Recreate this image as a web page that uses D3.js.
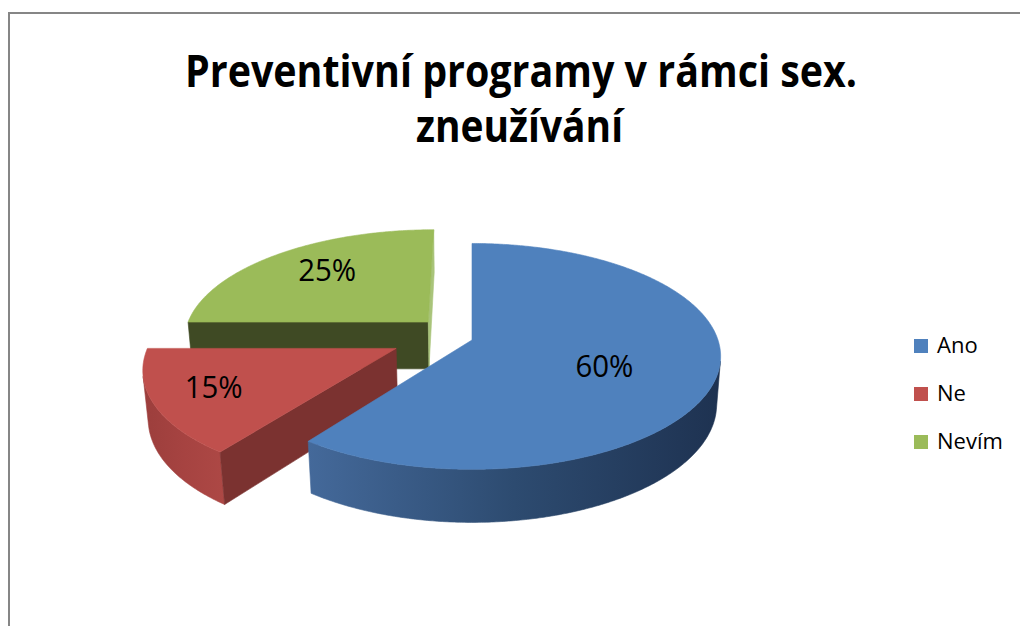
<!DOCTYPE html>
<html><head><meta charset="utf-8">
<script src="https://cdn.jsdelivr.net/npm/d3@7"></script>
<style>html,body{margin:0;padding:0;background:#fff;} svg{display:block;}</style>
</head><body>
<svg id="chart" width="1020" height="626"></svg>
<script>
// ---- data ----
const titleLines = ["Preventivní programy v rámci sex.", "zneužívání"];
const categories = ["Ano", "Ne", "Nevím"];
const values = [60, 15, 25];
const valueLabels = ["60%", "15%", "25%"];

// ---- style ----
const topColors = ["#4F81BD", "#C0504D", "#9BBB59"];
const startFaceColors = ["#2C4A6E", "#7B3230", "#3F4A24"];
const endFaceColors = ["#2C4A6E", "#8A3A38", "#A9C47A"];
const sideStops = [["#44699A", "#2D4B70", "#1E3251"], ["#9C3E3C", "#A64341", "#AD4845"], ["#5B6E33", "#5B6E33", "#5B6E33"]];
const explodeX = [0, -0.305, -0.182];
const explodeZ = [0, 0.075, -0.166];
const labelRadius = [0.56, 0.78, 0.63];
const labelDx = [-2, 4, -3];
const labelDy = [6, -4, -8];

const W = 1020, H = 626;
const CX = 472, CY = 340, S = 246, PHI = 26.7 * Math.PI / 180, DIST = 6.16, DEPTH = 0.22;
const sinP = Math.sin(PHI), cosP = Math.cos(PHI);
const cam = [0, DIST * sinP, DIST * cosP];

function project(x, y, z) {
  const w = z * cosP + y * sinP;
  const yUp = y * cosP - z * sinP;
  const k = DIST / (DIST - w);
  return [CX + S * x * k, CY - S * yUp * k];
}

const svg = d3.select("#chart");
const defs = svg.append("defs");
const color = d3.scaleOrdinal().domain(categories).range(topColors);
const line = d3.line().curve(d3.curveLinearClosed);

// border
svg.append("path").attr("d", "M9,626V13H1020").attr("fill", "none")
  .attr("stroke", "#868686").attr("stroke-width", 2);

// title
const tLens = [672, 207];
const tY = [87, 142];
const tX = [521, 519.5];
titleLines.forEach((t, i) => {
  svg.append("text").attr("x", tX[i]).attr("y", tY[i])
    .attr("text-anchor", "middle")
    .attr("font-family", "Open Sans, sans-serif").attr("font-weight", 700)
    .attr("font-size", 44).attr("fill", "#000")
    .attr("textLength", tLens[i]).attr("lengthAdjust", "spacingAndGlyphs")
    .text(t);
});

const pie = d3.pie().sort(null).value(d => d.value);
const arcs = pie(categories.map((c, i) => ({ cat: c, value: values[i], i })));

function angDistFront(a) {
  if (a.startAngle <= Math.PI && a.endAngle >= Math.PI) return 0;
  return Math.min(Math.abs(a.startAngle - Math.PI), Math.abs(a.endAngle - Math.PI));
}
const order = arcs.slice().sort((a, b) => angDistFront(b) - angDistFront(a));

const step = Math.PI / 360;
function rim(i, th, y) {
  return [explodeX[i] + Math.sin(th), y, explodeZ[i] - Math.cos(th)];
}
function dot(a, b) { return a[0] * b[0] + a[1] * b[1] + a[2] * b[2]; }
function facing(p, n) { return dot([cam[0] - p[0], cam[1] - p[1], cam[2] - p[2]], n) > 0; }

const g = svg.append("g");
order.forEach(a => {
  const i = a.data.i;
  const sg = g.append("g").attr("class", "slice");
  const s0 = a.startAngle, s1 = a.endAngle;
  const n = Math.max(2, Math.ceil((s1 - s0) / step));
  const ths = d3.range(n + 1).map(k => s0 + (s1 - s0) * k / n);

  // outer side, visible runs
  const gid = "side" + i;
  const gr = defs.append("linearGradient").attr("id", gid).attr("x1", 0).attr("x2", 1).attr("y1", 0).attr("y2", 0);
  sideStops[i].forEach((c, k) => gr.append("stop").attr("offset", k / (sideStops[i].length - 1)).attr("stop-color", c));
  let runs = [], cur = [];
  ths.forEach(th => {
    const p = rim(i, th, -DEPTH / 2);
    const nrm = [Math.sin(th), 0, -Math.cos(th)];
    if (facing(p, nrm)) cur.push(th); else { if (cur.length > 1) runs.push(cur); cur = []; }
  });
  if (cur.length > 1) runs.push(cur);
  runs.forEach(r => {
    const topPts = r.map(th => project(...rim(i, th, 0)));
    const botPts = r.slice().reverse().map(th => project(...rim(i, th, -DEPTH)));
    sg.append("path").attr("d", line(topPts.concat(botPts)))
      .attr("fill", `url(#${gid})`).attr("stroke", `url(#${gid})`).attr("stroke-width", 0.6);
  });

  // cut faces
  const apexT = [explodeX[i], 0, explodeZ[i]], apexB = [explodeX[i], -DEPTH, explodeZ[i]];
  [[s0, [-Math.cos(s0), 0, -Math.sin(s0)], startFaceColors[i]],
   [s1, [Math.cos(s1), 0, Math.sin(s1)], endFaceColors[i]]].forEach(([th, nrm, col]) => {
    const mid = [explodeX[i] + 0.5 * Math.sin(th), -DEPTH / 2, explodeZ[i] - 0.5 * Math.cos(th)];
    if (!facing(mid, nrm)) return;
    const pts = [project(...apexT), project(...rim(i, th, 0)), project(...rim(i, th, -DEPTH)), project(...apexB)];
    sg.append("path").attr("d", line(pts)).attr("fill", col).attr("stroke", col).attr("stroke-width", 0.6);
  });

  // top face
  const topPts = [project(...apexT)].concat(ths.map(th => project(...rim(i, th, 0))));
  sg.append("path").attr("d", line(topPts)).attr("fill", color(a.data.cat))
    .attr("stroke", color(a.data.cat)).attr("stroke-width", 0.6);
});

// value labels
arcs.forEach(a => {
  const i = a.data.i;
  const m = (a.startAngle + a.endAngle) / 2;
  const r = labelRadius[i];
  const p = project(explodeX[i] + r * Math.sin(m), 0, explodeZ[i] - r * Math.cos(m));
  svg.append("text").attr("x", p[0] + labelDx[i]).attr("y", p[1] + 11 + labelDy[i])
    .attr("text-anchor", "middle")
    .attr("font-family", "Open Sans, sans-serif").attr("font-size", 31)
    .attr("fill", "#000").attr("textLength", 58).attr("lengthAdjust", "spacingAndGlyphs")
    .text(valueLabels[i]);
});

// legend
const lg = svg.append("g");
categories.forEach((c, k) => {
  const y0 = 339 + k * 48;
  lg.append("rect").attr("x", 914).attr("y", y0).attr("width", 14).attr("height", 14).attr("fill", color(c));
  lg.append("text").attr("x", 937).attr("y", y0 + 14)
    .attr("font-family", "Open Sans, sans-serif").attr("font-size", 22).attr("fill", "#000")
    .text(c);
});
</script>
</body></html>
